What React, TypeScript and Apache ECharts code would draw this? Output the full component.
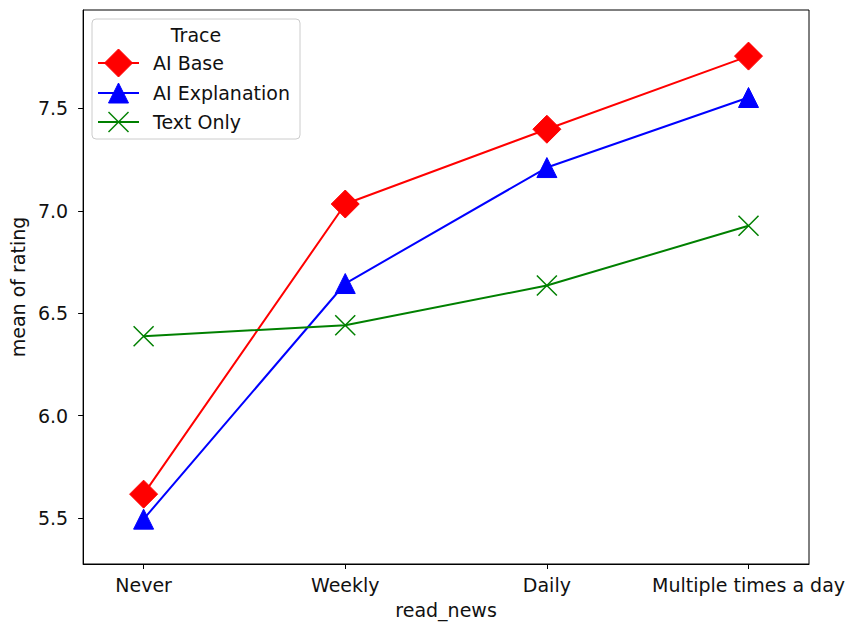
import React, { useEffect, useRef } from "react";
import * as echarts from "echarts";

const categories = ["Never", "Weekly", "Daily", "Multiple times a day"];
const aiBase = [5.617, 7.033, 7.398, 7.755];
const aiExplanation = [5.495, 6.645, 7.211, 7.553];
const textOnly = [6.388, 6.441, 6.635, 6.927];
const yTicks = [5.5, 6.0, 6.5, 7.0, 7.5];
const seriesNames = ["AI Base", "AI Explanation", "Text Only"];
const legendTitle = "Trace";
const xName = "read_news";
const yName = "mean of rating";

const FONT = "DejaVu Sans";
const TXT = "#111";
const RED = "#ff0000";
const BLUE = "#0000ff";
const GREEN = "#008000";
const X_PATH = "path://M0,0L10,10M10,0L0,10";

export default function App() {
  const ref = useRef<HTMLDivElement>(null);
  useEffect(() => {
    if (!ref.current) return;
    const chart = echarts.init(ref.current, undefined, { renderer: "svg" });
    const toPts = (arr: number[]) => arr.map((v, i) => [i, v]);

    const legendRows = [63, 93, 122];
    const lx0 = 98, lx1 = 139, mx = 118.5, tx = 153;
    const legendItems: any[] = [];
    const colors = [RED, BLUE, GREEN];
    seriesNames.forEach((name, k) => {
      const y = legendRows[k];
      legendItems.push({
        type: "line",
        shape: { x1: lx0, y1: y, x2: lx1, y2: y },
        style: { stroke: colors[k], lineWidth: 2 },
      });
      if (k === 0) {
        legendItems.push({
          type: "polygon",
          shape: { points: [[mx, y - 14], [mx + 14, y], [mx, y + 14], [mx - 14, y]] },
          style: { fill: RED, stroke: RED, lineWidth: 1 },
        });
      } else if (k === 1) {
        legendItems.push({
          type: "polygon",
          shape: { points: [[mx, y - 10], [mx + 10, y + 10], [mx - 10, y + 10]] },
          style: { fill: BLUE, stroke: BLUE, lineWidth: 1 },
        });
      } else {
        legendItems.push({
          type: "line",
          shape: { x1: mx - 10, y1: y - 10, x2: mx + 10, y2: y + 10 },
          style: { stroke: GREEN, lineWidth: 1.5 },
        });
        legendItems.push({
          type: "line",
          shape: { x1: mx - 10, y1: y + 10, x2: mx + 10, y2: y - 10 },
          style: { stroke: GREEN, lineWidth: 1.5 },
        });
      }
      legendItems.push({
        type: "text",
        x: tx,
        y: y,
        style: {
          text: name,
          fill: TXT,
          font: `19px '${FONT}'`,
          verticalAlign: "middle",
          align: "left",
        },
      });
    });

    chart.setOption({
      animation: false,
      backgroundColor: "#fff",
      textStyle: { fontFamily: FONT },
      grid: {
        left: 83,
        top: 10,
        width: 726,
        height: 554,
        show: true,
        borderColor: "#000",
        borderWidth: 1,
        backgroundColor: "transparent",
      },
      xAxis: {
        type: "value",
        min: -0.3,
        max: 3.3,
        name: xName,
        nameLocation: "middle",
        nameGap: 36,
        nameTextStyle: { fontSize: 19, color: TXT, fontFamily: FONT },
        axisLine: { show: true, onZero: false, lineStyle: { color: "#000", width: 1 } },
        axisTick: { show: true, length: 5, lineStyle: { color: "#000" }, customValues: [0, 1, 2, 3] },
        axisLabel: {
          customValues: [0, 1, 2, 3],
          formatter: (v: number) => categories[Math.round(v)] ?? "",
          fontSize: 19,
          color: TXT,
          fontFamily: FONT,
          margin: 11,
        },
        splitLine: { show: false },
      },
      yAxis: {
        type: "value",
        min: 5.276,
        max: 7.98,
        name: yName,
        nameLocation: "middle",
        nameGap: 55,
        nameTextStyle: { fontSize: 19, color: TXT, fontFamily: FONT },
        axisLine: { show: true, onZero: false, lineStyle: { color: "#000", width: 1 } },
        axisTick: { show: true, length: 5, lineStyle: { color: "#000" }, customValues: yTicks },
        axisLabel: {
          customValues: yTicks,
          formatter: (v: number) => v.toFixed(1),
          fontSize: 19,
          color: TXT,
          fontFamily: FONT,
          margin: 15,
        },
        splitLine: { show: false },
      },
      series: [
        {
          name: seriesNames[0],
          type: "line",
          data: toPts(aiBase),
          symbol: "diamond",
          symbolSize: 28,
          lineStyle: { color: RED, width: 2 },
          itemStyle: { color: RED, borderColor: RED, borderWidth: 1 },
        },
        {
          name: seriesNames[1],
          type: "line",
          data: toPts(aiExplanation),
          symbol: "triangle",
          symbolSize: 20,
          lineStyle: { color: BLUE, width: 2 },
          itemStyle: { color: BLUE, borderColor: BLUE, borderWidth: 1 },
        },
        {
          name: seriesNames[2],
          type: "line",
          data: toPts(textOnly),
          symbol: X_PATH,
          symbolSize: 20,
          lineStyle: { color: GREEN, width: 2 },
          itemStyle: { color: GREEN, borderColor: GREEN, borderWidth: 1.5 },
        },
      ],
      graphic: [
        {
          type: "group",
          z: 100,
          children: [
            {
              type: "rect",
              shape: { x: 92, y: 19, width: 208, height: 120, r: 4 },
              style: { fill: "rgba(255,255,255,0.8)", stroke: "#cccccc", lineWidth: 1 },
            },
            {
              type: "text",
              x: 196,
              y: 35,
              style: {
                text: legendTitle,
                fill: TXT,
                font: `19px '${FONT}'`,
                align: "center",
                verticalAlign: "middle",
              },
            },
            ...legendItems,
          ],
        },
      ],
    });
    return () => chart.dispose();
  }, []);
  return <div ref={ref} style={{ width: 852, height: 624, position: "absolute", left: 0, top: 0 }} />;
}
